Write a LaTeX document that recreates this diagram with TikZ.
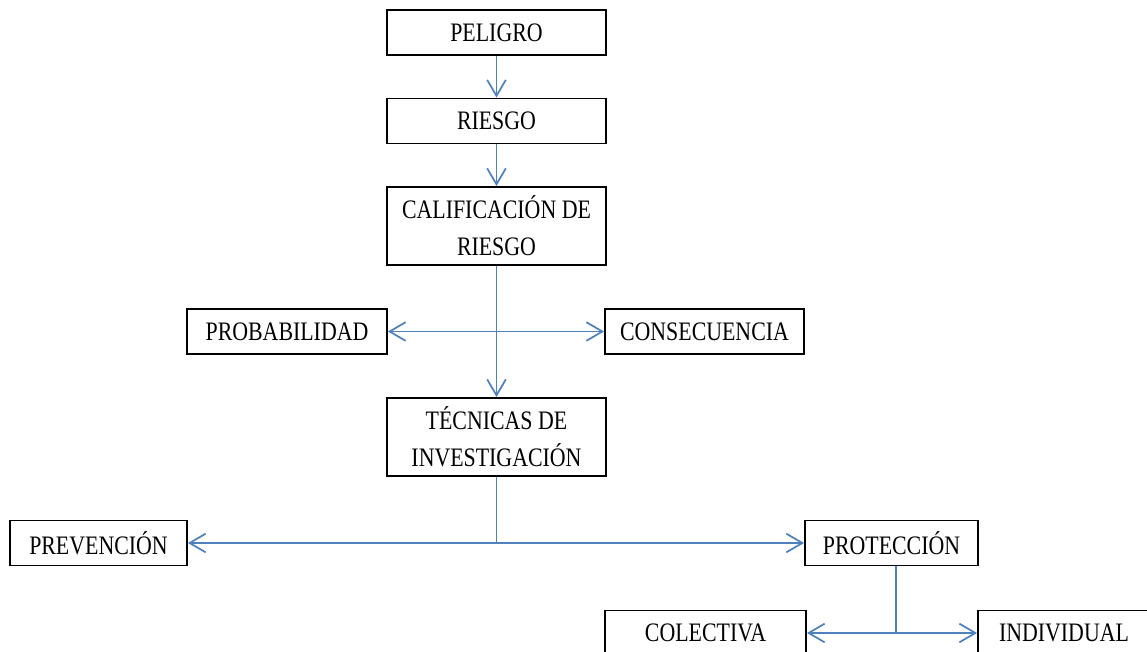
\documentclass[tikz,border=0pt]{standalone}
\usepackage{fontspec}
\usepackage{tikz}
\usetikzlibrary{arrows.meta}
\newfontfamily\boxfont[FakeStretch=0.82]{Liberation Serif}

\begin{document}
\begin{tikzpicture}[x=0.75pt,y=0.75pt,yscale=-1,xscale=1,
    caja/.style={draw=black,line width=1.4pt,fill=white,align=center,inner sep=0pt,
        font=\boxfont\fontsize{20}{28}\selectfont,minimum height=45*0.75pt},
    enlace/.style={draw={rgb,255:red,79;green,129;blue,189},line width=1.3pt,
        -{Straight Barb[length=12pt,width=14pt,line width=1.3pt]}},
    doble/.style={enlace,{Straight Barb[length=12pt,width=14pt,line width=1.3pt]}-{Straight Barb[length=12pt,width=14pt,line width=1.3pt]}},
    linea/.style={draw={rgb,255:red,79;green,129;blue,189},line width=1.3pt}]
        \useasboundingbox (0,0) rectangle (1147,652);

        % Boxes
        \node [caja,minimum width=219*0.75pt] (peligro) at (496.5,32.5) {PELIGRO};
        \node [caja,minimum width=219*0.75pt] (riesgo) at (496.5,121) {RIESGO};
        \node [caja,minimum width=219*0.75pt,minimum height=78*0.75pt] (calif) at (496.5,226) {CALIFICACIÓN DE\\RIESGO};
        \node [caja,minimum width=200*0.75pt] (prob) at (287,331.5) {PROBABILIDAD};
        \node [caja,minimum width=199*0.75pt] (cons) at (704.5,331.5) {CONSECUENCIA};
        \node [caja,minimum width=219*0.75pt,minimum height=78*0.75pt] (tecnicas) at (496.5,437) {TÉCNICAS DE\\INVESTIGACIÓN};
        \node [caja,minimum width=177*0.75pt] (prev) at (98.5,543) {PREVENCIÓN};
        \node [caja,minimum width=173*0.75pt] (prot) at (891.5,543) {PROTECCIÓN};
        \node [caja,minimum width=201*0.75pt] (colect) at (705.5,633) {COLECTIVA};
        \node [caja,minimum width=172*0.75pt] (indiv) at (1064,633) {INDIVIDUAL};

        % Connectors
        \draw [enlace] (peligro) -- (riesgo);
        \draw [enlace] (riesgo) -- (calif);
        \draw [doble] (prob) -- (cons);
        \draw [enlace] (calif) -- (tecnicas);
        \coordinate (nudo1) at (tecnicas.south |- prev.east);
        \draw [linea] (tecnicas) -- (nudo1);
        \draw [doble] (prev) -- (prot);
        \coordinate (nudo2) at (896,633);
        \draw [linea] (896,565.5) -- (nudo2);
        \draw [doble] (colect) -- (indiv);

    \end{tikzpicture}
\end{document}
